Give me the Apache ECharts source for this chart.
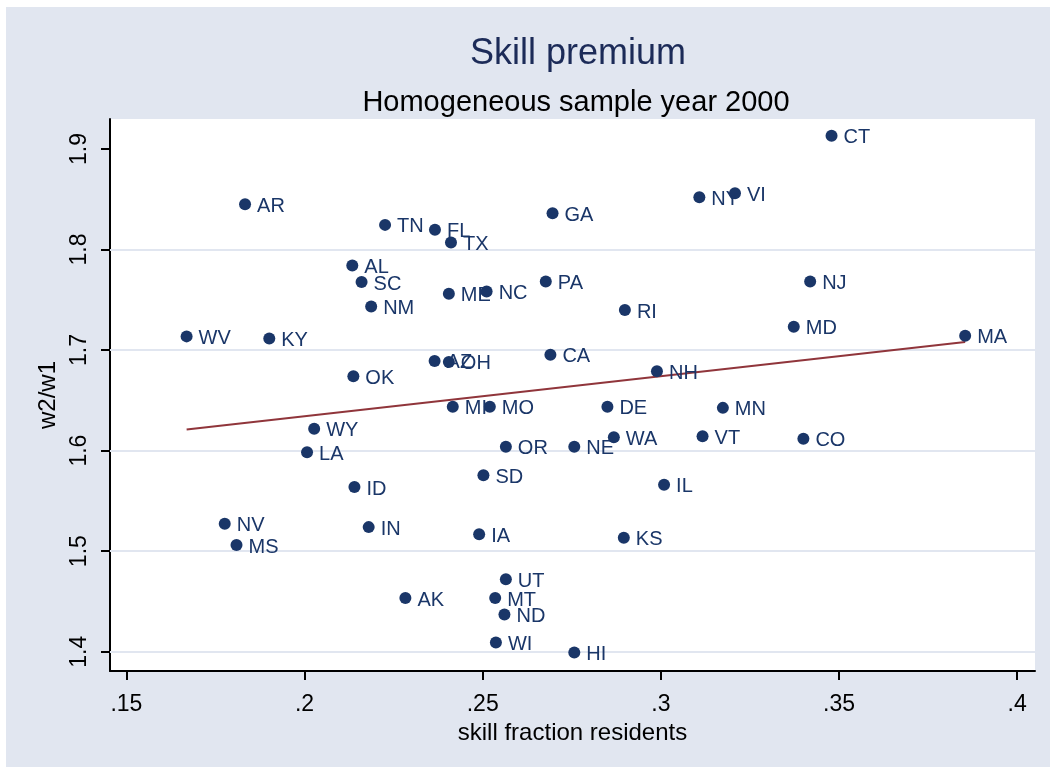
<!DOCTYPE html>
<html>
<head>
<meta charset="utf-8">
<script src="https://cdn.jsdelivr.net/npm/echarts@6/dist/echarts.min.js"></script>
<style>
  html, body { margin: 0; padding: 0; background: #fff; }
  #chart { width: 1050px; height: 767px; }
</style>
</head>
<body>
<div id="chart"></div>
<script>
// states and their (skill fraction, w2/w1) values
const states = ['AR','WV','KY','WY','LA','NV','MS','TN','FL','TX','GA','AL','SC','NM','ME','NC','PA','RI','CA','AZ',
                'OH','OK','NH','MI','MO','DE','OR','NE','WA','SD','ID','IL','IN','IA','KS','UT','AK','MT','ND','WI',
                'HI','CT','NY','VI','NJ','MD','MA','MN','VT','CO'];
const skillFrac = [0.1833,0.1669,0.1901,0.2027,0.2007,0.1776,0.1809,0.2226,0.2366,0.2411,0.2696,0.2134,0.2160,0.2187,0.2405,0.2511,0.2677,0.2899,0.2690,0.2365,
                   0.2405,0.2137,0.2989,0.2416,0.2520,0.2850,0.2565,0.2757,0.2868,0.2502,0.2140,0.3009,0.2180,0.2490,0.2896,0.2565,0.2283,0.2535,0.2561,0.2537,
                   0.2757,0.3479,0.3108,0.3208,0.3419,0.3373,0.3854,0.3174,0.3117,0.3400];
const wageRatio = [1.845,1.7136,1.7116,1.6217,1.5984,1.5273,1.506,1.8245,1.8196,1.807,1.8361,1.7841,1.7676,1.7434,1.756,1.7583,1.7682,1.7398,1.6954,1.6892,
                   1.6882,1.6739,1.6789,1.6435,1.6435,1.6435,1.6038,1.6038,1.6133,1.5756,1.5637,1.566,1.5239,1.5167,1.5134,1.472,1.4534,1.4534,1.4369,1.4091,
                   1.3992,1.9132,1.852,1.856,1.7682,1.7232,1.7143,1.6425,1.6143,1.6117];
// fitted line end points
const fitX = [0.1669, 0.3854];
const fitY = [1.621, 1.708];
const xTicks = [0.15, 0.2, 0.25, 0.3, 0.35, 0.4];
const yTicks = [1.4, 1.5, 1.6, 1.7, 1.8, 1.9];
const yGrid = [1.4, 1.5, 1.6, 1.7, 1.8];

const navy = '#1a3668';
const bg = '#e1e6f0';
const font = 'Liberation Sans, Arial, sans-serif';

let chart = echarts.init(document.getElementById('chart'));
chart.setOption({
  animation: false,
  graphic: [{
    type: 'rect', z: -10, silent: true,
    shape: { x: 6, y: 7, width: 1044, height: 760 },
    style: { fill: bg }
  }],
  title: [
    {
      text: 'Skill premium',
      left: 573, top: 31, textAlign: 'center',
      textStyle: { fontFamily: font, fontSize: 36, fontWeight: 'normal', color: '#1c2b58' }
    },
    {
      text: 'Homogeneous sample year 2000',
      left: 571, top: 83, textAlign: 'center',
      textStyle: { fontFamily: font, fontSize: 29, fontWeight: 'normal', color: '#000' }
    }
  ],
  grid: {
    left: 110, top: 119, right: 15, bottom: 96,
    show: true, backgroundColor: '#fff', borderWidth: 0
  },
  xAxis: {
    type: 'value',
    min: 0.1454, max: 0.405,
    name: 'skill fraction residents',
    nameLocation: 'middle',
    nameGap: 43,
    nameTextStyle: { fontFamily: font, fontSize: 24, color: '#000' },
    axisLine: { show: true, onZero: false, lineStyle: { color: '#000', width: 2 } },
    axisTick: { show: true, length: 9, customValues: xTicks, lineStyle: { color: '#000', width: 2 } },
    axisLabel: {
      customValues: xTicks, margin: 22,
      fontFamily: font, fontSize: 23, color: '#000',
      formatter: v => String(v).replace(/^0/, '')
    },
    splitLine: { show: false }
  },
  yAxis: {
    type: 'value',
    min: 1.3808, max: 1.9298,
    name: 'w2/w1',
    nameLocation: 'middle',
    nameGap: 49,
    nameRotate: 90,
    nameTextStyle: { fontFamily: font, fontSize: 24, color: '#000' },
    axisLine: { show: true, onZero: false, lineStyle: { color: '#000', width: 2 } },
    axisTick: { show: true, length: 9, customValues: yTicks, lineStyle: { color: '#000', width: 2 } },
    axisLabel: {
      customValues: yTicks, margin: 19, rotate: 90,
      fontFamily: font, fontSize: 23, color: '#000',
      formatter: v => v.toFixed(1)
    },
    splitLine: { show: false }
  },
  series: [
    {
      name: 'fit',
      type: 'line',
      z: 2,
      symbol: 'none',
      data: fitX.map((x, i) => [x, fitY[i]]),
      lineStyle: { color: '#90353b', width: 2 },
      markLine: {
        z: 1,
        silent: true,
        symbol: 'none',
        label: { show: false },
        lineStyle: { color: bg, width: 2, type: 'solid' },
        data: yGrid.map(v => ({ yAxis: v }))
      }
    },
    {
      name: 'states',
      type: 'scatter',
      z: 3,
      symbolSize: 12,
      itemStyle: { color: navy, opacity: 1 },
      data: states.map((s, i) => [skillFrac[i], wageRatio[i], s]),
      label: {
        show: true,
        position: 'right',
        distance: 6,
        offset: [0, 2],
        formatter: p => p.value[2],
        fontFamily: font, fontSize: 20, color: navy
      }
    }
  ]
});
</script>
</body>
</html>
